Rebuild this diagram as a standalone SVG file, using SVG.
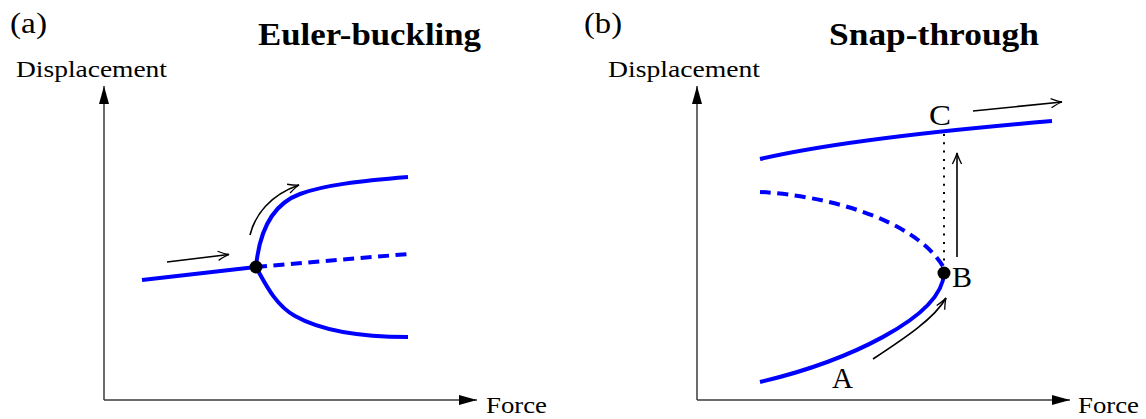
<svg xmlns="http://www.w3.org/2000/svg" width="1146" height="419" viewBox="0 0 1146 419">
  <style>
    text { font-family: "Liberation Serif", "Times New Roman", serif; fill: #000; }
    .title { font-weight: bold; font-size: 31px; }
    .lab { font-size: 29px; }
    .pt { font-size: 30px; }
    .ax { font-size: 23px; }
    .axis { stroke: #3a3a3a; stroke-width: 1.5; fill: none; }
    .solid { stroke: #0000ff; stroke-width: 4; fill: none; }
    .dash { stroke: #0000ff; stroke-width: 4; fill: none; stroke-dasharray: 11 6.5; }
    .arr { stroke: #000; stroke-width: 1.6; fill: none; marker-end: url(#open); }
    .dot { fill: #000; }
  </style>
  <defs>
    <marker id="open" viewBox="-13 -6 15 12" markerUnits="userSpaceOnUse" markerWidth="15" markerHeight="12" refX="0" refY="0" orient="auto" overflow="visible">
      <path d="M-11,-4.6 Q-4,-1 0,0 Q-4,1 -11,4.6" fill="none" stroke="#000" stroke-width="1.3"/>
    </marker>
    <marker id="tri" viewBox="-20 -6 22 12" markerUnits="userSpaceOnUse" markerWidth="22" markerHeight="12" refX="0" refY="0" orient="auto" overflow="visible">
      <path d="M-18,-5 L0,0 L-18,5 z" fill="#000"/>
    </marker>
  </defs>

  <!-- Panel (a) -->
  <g id="panel-a-labels">
    <text x="10" y="33" class="lab" textLength="37" lengthAdjust="spacingAndGlyphs">(a)</text>
    <text x="258" y="45" class="title" textLength="223" lengthAdjust="spacingAndGlyphs">Euler-buckling</text>
    <text x="16" y="77" class="ax" textLength="151" lengthAdjust="spacingAndGlyphs">Displacement</text>
    <text x="486" y="413" class="ax" textLength="61" lengthAdjust="spacingAndGlyphs">Force</text>
  </g>
  <g id="panel-a-axes">
    <line x1="104" y1="400" x2="104" y2="86" class="axis" marker-end="url(#tri)"/>
    <line x1="104" y1="400" x2="477" y2="400" class="axis" marker-end="url(#tri)"/>
  </g>
  <g id="panel-a-curves">
    <path d="M142,280 L256,267" class="solid"/>
    <path d="M256,267 L408,254" class="dash"/>
    <path d="M256,267 C259,235 270,205 300,194 C324,185 360,181 408,177" class="solid"/>
    <path d="M256,267 C265,283 275,305 295,316 C318,329 355,337 408,337" class="solid"/>
  </g>
  <g id="node-bifurcation">
    <circle cx="256" cy="267" r="6.5" class="dot"/>
  </g>

  <!-- Panel (b) -->
  <g id="panel-b-labels">
    <text x="584" y="33" class="lab" textLength="38" lengthAdjust="spacingAndGlyphs">(b)</text>
    <text x="829" y="45" class="title" textLength="210" lengthAdjust="spacingAndGlyphs">Snap-through</text>
    <text x="608" y="77" class="ax" textLength="152" lengthAdjust="spacingAndGlyphs">Displacement</text>
    <text x="1078" y="413" class="ax" textLength="61" lengthAdjust="spacingAndGlyphs">Force</text>
  </g>
  <g id="panel-b-axes">
    <line x1="697" y1="400" x2="697" y2="86" class="axis" marker-end="url(#tri)"/>
    <line x1="697" y1="400" x2="1070" y2="400" class="axis" marker-end="url(#tri)"/>
  </g>
  <g id="panel-b-curves">
    <path d="M760,159 Q850,138 1052,121" class="solid"/>
    <path d="M760,192 C822,195 915,218 944,268" class="dash"/>
    <path d="M760,382 C845,362 942,318 944,273" class="solid"/>
    <line x1="944" y1="134" x2="944" y2="266" stroke="#000" stroke-width="2" stroke-dasharray="2 6.3"/>
  </g>
  <g id="node-A">
    <text x="832" y="388" class="pt" textLength="21" lengthAdjust="spacingAndGlyphs">A</text>
  </g>
  <g id="node-B">
    <circle cx="944" cy="273" r="6.5" class="dot"/>
    <text x="952" y="287" class="pt" textLength="20" lengthAdjust="spacingAndGlyphs">B</text>
  </g>
  <g id="node-C">
    <text x="929" y="125" class="pt" textLength="22" lengthAdjust="spacingAndGlyphs">C</text>
  </g>

  <!-- Connectors (path arrows) -->
  <g id="connectors">
    <path d="M167,262 L229,254.5" class="arr"/>
    <path d="M250,235 C255,215 270,195 299,185" class="arr"/>
    <path d="M873,359 C905,338 935,318 946,298" class="arr"/>
    <path d="M957,257 L957,153" class="arr"/>
    <path d="M973,111 L1062,102" class="arr"/>
  </g>
</svg>
